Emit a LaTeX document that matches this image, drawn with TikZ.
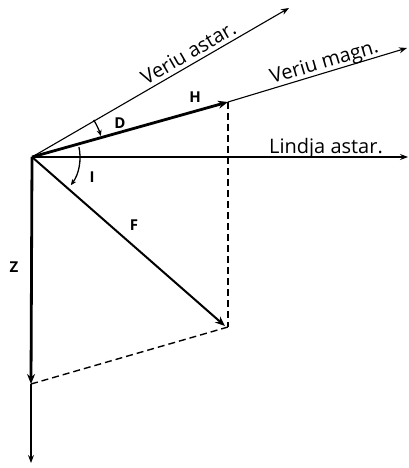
\documentclass[tikz,border=0pt]{standalone}
\usepackage{fontspec}
\setmainfont{Open Sans}
\usetikzlibrary{arrows.meta,calc}
\begin{document}
\begin{tikzpicture}[x=1pt,y=-1pt,
  thin line/.style={line width=1.1pt},
  thick vec/.style={line width=2.8pt},
  mid vec/.style={line width=2pt},
  tip/.style={-{Stealth[length=8pt,width=6pt]}},
  dash line/.style={line width=1.4pt,dash pattern=on 7pt off 4pt},
  big label/.style={font=\fontsize{20}{20}\selectfont,inner sep=0pt},
  small label/.style={font=\bfseries\fontsize{15}{15}\selectfont,inner sep=0pt}]
\useasboundingbox (0,0) rectangle (409,468);
\coordinate (O) at (32,157);
\coordinate (A) at (289,8);
\coordinate (M) at (407,48);
\coordinate (Hend) at (228,102);
\coordinate (L) at (408,157);
\coordinate (Fend) at (225,326);
\coordinate (Zend) at (31,384);
\coordinate (Zbot) at (31,463);
\coordinate (Hfoot) at (228,327);
% axes
\draw[thin line,tip] (O) -- (A);
\draw[thin line,tip] (Hend) -- (M);
\draw[thin line,tip] (O) -- (L);
\draw[thin line,tip] (Zend) -- (Zbot);
% vectors
\draw[thick vec,-{Stealth[length=10pt,width=8pt]}] (O) -- (Hend);
\draw[mid vec,-{Stealth[length=10pt,width=8pt]}] (O) -- (Fend);
\draw[thick vec,-{Stealth[length=10pt,width=8pt]}] (O) -- (Zend);
% dashed
\draw[dash line] (Hend) -- (Hfoot);
\draw[dash line] (Zend) -- (Hfoot);
% angle arcs
\draw[line width=1.3pt,-{Stealth[length=6pt,width=5pt]}] ($(O)+(-31:72)$) arc[start angle=-31,end angle=-17,radius=72];
\draw[line width=1.3pt,-{Stealth[length=6pt,width=5pt]}] ($(O)+(-12:48)$) arc[start angle=-12,end angle=36,radius=48];
% labels
\node[big label,rotate=30,anchor=base] (la) at (192,59) {Veriu astar.};
\node[big label,rotate=16.5,anchor=base] (lm) at (326,68) {Veriu magn.};
\node[big label,anchor=base] (ll) at (326,153) {Lindja astar.};
\node[small label] (lH) at (195,97) {H};
\node[small label] (lD) at (120,123) {D};
\node[small label] (lI) at (92,177) {I};
\node[small label] (lF) at (134,225) {F};
\node[small label] (lZ) at (14,267) {Z};
\end{tikzpicture}
\end{document}
